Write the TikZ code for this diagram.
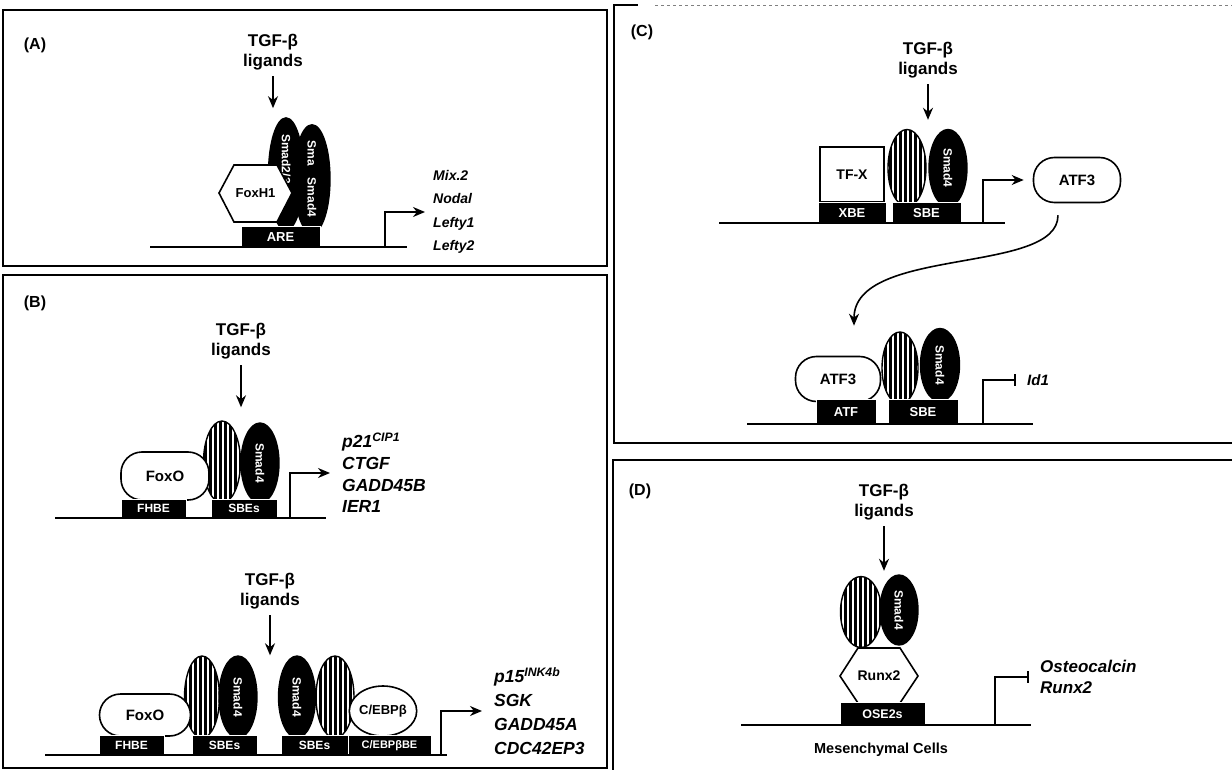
\documentclass[tikz,border=0pt]{standalone}
\usepackage{fontspec}
\setmainfont{Liberation Sans}
\usetikzlibrary{arrows.meta,positioning,shapes.geometric,patterns.meta}

\begin{document}
\begin{tikzpicture}[
        x=1pt, y=-1pt,
        every node/.style = {font=\bfseries\fontsize{12}{14}\selectfont},
        panel/.style = {line width=1.8pt},
        plabel/.style = {font=\bfseries\fontsize{16}{18}\selectfont},
        dna/.style = {line width=2.4pt},
        site/.style = {fill=black, draw=white, line width=0.6pt, text=white, inner sep=0pt, anchor=south},
        smad/.style = {ellipse, draw, line width=1.4pt, fill=black, text=white, rotate=-90, inner sep=0pt},
        smadh/.style = {smad, fill=white, postaction={pattern={Lines[angle=90, distance=5pt, line width=3pt]}}},
        tf/.style = {draw, line width=1.6pt, fill=white, rounded corners=21pt, inner sep=0pt, font=\bfseries\fontsize{15}{17}\selectfont},
        hexa/.style = {draw, line width=1.6pt, fill=white},
        lig/.style = {align=center, font=\bfseries\fontsize{17}{20}\selectfont},
        gene/.style = {align=left, anchor=west, inner sep=0pt},
        act/.style = {line width=1.6pt, -{Stealth[length=12pt, width=10pt]}},
        rep/.style = {line width=1.6pt, -{Bar[width=12pt]}}
    ]
    \useasboundingbox (0,0) rectangle (1232,770);

    \draw[panel] (3,10) rectangle (607,266);
    \draw[panel] (3,275) rectangle (607,768);
    \draw[panel] (1232,443) -- (614,443) -- (614,5) -- (638,5);
    \draw[gray, dashed, line width=0.8pt] (655,5) -- (1232,5);
    \draw[panel] (613,770) -- (613,460) -- (1232,460);

    \node[plabel] (labA) at (35,45) {(A)};
    \node[plabel] (labB) at (35,303) {(B)};
    \node[plabel] (labC) at (642,32) {(C)};
    \node[plabel] (labD) at (640,491) {(D)};

    % (A)
    \node[lig] (lgA) at (273,52) {TGF-β\\ligands};
    \node[smad, minimum width=105pt, minimum height=35pt] (smA1) at (286,174) {Smad2/3\hspace*{30pt}};
    \node[smad, minimum width=108pt, minimum height=36pt] (smA2) at (312,179) {Sma\hspace{12pt}Smad4};
    \draw[hexa] (219,193) -- (234,165) -- (277,165) -- (292,193) -- (277,222) -- (234,222) -- cycle;
    \node[font=\bfseries\fontsize{13}{15}\selectfont] (foxA) at (255.5,193) {FoxH1};
    \node[site, minimum width=79pt, minimum height=20pt, font=\bfseries\fontsize{13}{15}\selectfont] (areA) at (280.5,247) {ARE};
    \coordinate (dnaA1) at (150,247);
    \coordinate (dnaA2) at (407,247);
    \coordinate (tssA) at (385,247);
    \draw[dna] (dnaA1) -- (dnaA2);
    \node[gene, font=\bfseries\itshape\fontsize{14}{23.3}\selectfont] (genA) at (433,212)
        {Mix.2\\Nodal\\Lefty1\\Lefty2};
    \draw[act, shorten <=3pt, shorten >=9pt] (lgA) -- (lgA |- smA1.west);
    \draw[act, shorten >=8pt] (tssA) |- (genA.west);

    % (B) top
    \node[lig] (lgB1) at (241,341) {TGF-β\\ligands};
    \node[smadh, minimum width=82pt, minimum height=37pt] (smB1) at (222,462) {};
    \node[smad, minimum width=80pt, minimum height=38pt] (smB2) at (260,463) {Smad4};
    \node[tf, minimum width=88pt, minimum height=48pt] (foxB1) at (165,476) {FoxO};
    \node[site, minimum width=65pt, minimum height=18pt] (fhbeB1) at (153.5,518) {FHBE};
    \node[site, minimum width=66pt, minimum height=18pt] (sbeB1) at (244,518) {SBEs};
    \coordinate (dnaB1) at (55,518);
    \coordinate (dnaB2) at (326,518);
    \coordinate (tssB1) at (290,518);
    \draw[dna] (dnaB1) -- (dnaB2);
    \node[gene, font=\bfseries\itshape\fontsize{17.5}{21.7}\selectfont] (genB1) at (342,473)
        {p21\textsuperscript{CIP1}\\CTGF\\GADD45B\\IER1};
    \draw[act, shorten <=3pt, shorten >=13pt] (lgB1) -- (lgB1 |- smB1.west);
    \draw[act, shorten >=12pt] (tssB1) |- (genB1.west);

    % (B) bottom
    \node[lig] (lgB2) at (270,591) {TGF-β\\ligands};
    \node[smadh, minimum width=82pt, minimum height=35pt] (smB3) at (202,697) {};
    \node[smad, minimum width=82pt, minimum height=38pt] (smB4) at (238,697) {Smad4};
    \node[smad, minimum width=82pt, minimum height=37pt] (smB5) at (297,697) {Smad4};
    \node[smadh, minimum width=82pt, minimum height=38pt] (smB6) at (335,697) {};
    \node[tf, minimum width=91pt, minimum height=42pt] (foxB2) at (145,715) {FoxO};
    \node[ellipse, draw, line width=1.6pt, fill=white, inner sep=0pt, minimum width=58pt, minimum height=50pt,
        font=\bfseries\fontsize{13}{15}\selectfont] (cebB) at (383,711) {C/EBPβ};
    \node[site, minimum width=65pt, minimum height=19pt] (fhbeB2) at (131.5,755) {FHBE};
    \node[site, minimum width=65pt, minimum height=19pt] (sbeB2) at (224.5,755) {SBEs};
    \node[site, minimum width=67pt, minimum height=19pt] (sbeB3) at (314.5,755) {SBEs};
    \node[site, minimum width=83pt, minimum height=19pt, font=\bfseries\fontsize{11}{13}\selectfont] (cebsB) at (389.5,755) {C/EBPβBE};
    \coordinate (dnaB3) at (45,755);
    \coordinate (dnaB4) at (447,755);
    \coordinate (tssB2) at (441,755);
    \draw[dna] (dnaB3) -- (dnaB4);
    \node[gene, font=\bfseries\itshape\fontsize{17.5}{24}\selectfont] (genB2) at (494,711)
        {p15\textsuperscript{INK4b}\\SGK\\GADD45A\\CDC42EP3};
    \draw[act, shorten <=3pt] (lgB2) -- (lgB2 |- smB4.west);
    \draw[act, shorten >=12pt] (tssB2) |- (genB2.west);

    % (C)
    \node[lig] (lgC) at (928,60) {TGF-β\\ligands};
    \node[smadh, minimum width=77pt, minimum height=38pt] (smC1) at (907,168) {};
    \node[smad, minimum width=77pt, minimum height=38pt] (smC2) at (948,168) {Smad4};
    \node[draw, line width=1.6pt, fill=white, minimum width=64pt, minimum height=55pt, anchor=south,
        font=\bfseries\fontsize{14}{16}\selectfont] (tfxC) at (852,203) {TF-X};
    \node[site, minimum width=68pt, minimum height=20pt, font=\bfseries\fontsize{13}{15}\selectfont] (xbeC) at (852,223) {XBE};
    \node[site, minimum width=69pt, minimum height=20pt, font=\bfseries\fontsize{13}{15}\selectfont] (sbeC1) at (926.5,223) {SBE};
    \coordinate (dnaC1) at (719,223);
    \coordinate (dnaC2) at (1005,223);
    \coordinate (tssC1) at (983,223);
    \draw[dna] (dnaC1) -- (dnaC2);
    \node[tf, minimum width=87pt, minimum height=45pt] (atfC1) at (1077,180) {ATF3};
    \draw[act, shorten <=3pt, shorten >=9pt] (lgC) -- (lgC |- smC1.west);
    \draw[act, shorten >=9pt] (tssC1) |- (atfC1);

    \node[smadh, minimum width=72pt, minimum height=36pt] (smC3) at (900,368) {};
    \node[smad, minimum width=73pt, minimum height=39pt] (smC4) at (940,365) {Smad4};
    \node[tf, minimum width=85pt, minimum height=45pt] (atfC2) at (838,379) {ATF3};
    \node[site, minimum width=60pt, minimum height=24pt, font=\bfseries\fontsize{13}{15}\selectfont] (atfsC) at (846,424) {ATF};
    \node[site, minimum width=70pt, minimum height=24pt, font=\bfseries\fontsize{13}{15}\selectfont] (sbeC2) at (923,424) {SBE};
    \coordinate (dnaC3) at (747,424);
    \coordinate (dnaC4) at (1033,424);
    \coordinate (tssC2) at (983,424);
    \draw[dna] (dnaC3) -- (dnaC4);
    \node[gene, font=\bfseries\itshape\fontsize{15}{18}\selectfont] (genC) at (1027,380) {Id1};
    \draw[act] ([xshift=-19pt, yshift=-12pt]atfC1.south) .. controls +(0,60) and +(0,-80) .. ([xshift=16pt, yshift=30pt]atfC2.north);
    \draw[rep, shorten >=11pt] (tssC2) |- (genC.west);

    % (D)
    \node[lig] (lgD) at (884,502) {TGF-β\\ligands};
    \node[smadh, minimum width=71pt, minimum height=41pt] (smD1) at (861,612) {};
    \node[smad, minimum width=70pt, minimum height=38pt] (smD2) at (899,610) {Smad4};
    \draw[hexa] (840,676) -- (858,648) -- (900,648) -- (918,676) -- (900,703) -- (858,703) -- cycle;
    \node[font=\bfseries\fontsize{14}{16}\selectfont] (runD) at (879,676) {Runx2};
    \node[site, minimum width=85pt, minimum height=22pt, font=\bfseries\fontsize{12.5}{15}\selectfont] (oseD) at (882.5,725) {OSE2s};
    \coordinate (dnaD1) at (741,725);
    \coordinate (dnaD2) at (1031,725);
    \coordinate (tssD) at (995,725);
    \draw[dna] (dnaD1) -- (dnaD2);
    \node[gene, font=\bfseries\itshape\fontsize{17}{21}\selectfont] (genD) at (1040,677) {Osteocalcin\\Runx2};
    \node[font=\bfseries\fontsize{14.5}{16}\selectfont] (cellD) at (881,750) {Mesenchymal Cells};
    \draw[act, shorten <=3pt, shorten >=5pt] (lgD) -- (lgD |- smD1.west);
    \draw[rep, shorten >=11pt] (tssD) |- (genD.west);

\end{tikzpicture}
\end{document}
